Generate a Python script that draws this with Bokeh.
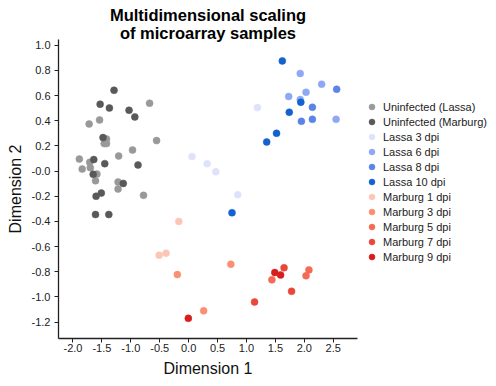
from bokeh.plotting import figure
from bokeh.models import Range1d, FixedTicker, CustomJSTickFormatter, Legend, LegendItem, Title
from bokeh.embed import file_html
from bokeh.resources import INLINE

FONT = "Liberation Sans"

group_names = ["Uninfected (Lassa)", "Uninfected (Marburg)", "Lassa 3 dpi", "Lassa 6 dpi",
               "Lassa 8 dpi", "Lassa 10 dpi", "Marburg 1 dpi", "Marburg 3 dpi",
               "Marburg 5 dpi", "Marburg 7 dpi", "Marburg 9 dpi"]
group_colors = ["#999999", "#595959", "#dfe2fb", "#8fa8f5", "#5c84e8", "#1462cf",
                "#fcc6b6", "#fb8f73", "#f46a55", "#e8473a", "#d91c1c"]

unl_x = [-0.675, -1.72, -1.54, -0.554, -1.42, -1.46, -1.42, -0.97, -1.21, -1.89, -1.71, -1.84, -1.70, -1.585, -1.61, -1.22, -1.22, -0.78]
unl_y = [0.539, 0.374, 0.406, 0.242, 0.255, 0.218, 0.218, 0.167, 0.12, 0.095, 0.069, 0.016, 0.027, -0.024, -0.077, -0.087, -0.143, -0.193]
unm_x = [-1.29, -1.53, -1.37, -1.03, -0.93, -1.48, -1.64, -1.45, -0.875, -1.65, -1.13, -1.51, -1.60, -1.61, -1.38]
unm_y = [0.642, 0.531, 0.501, 0.483, 0.430, 0.266, 0.091, 0.059, 0.048, -0.026, -0.098, -0.175, -0.20, -0.345, -0.345]
l3_x = [0.058, 0.32, 0.47, 0.85, 1.19]
l3_y = [0.115, 0.059, -0.005, -0.188, 0.504]
l6_x = [1.93, 2.30, 2.03, 1.73, 1.93, 2.55]
l6_y = [0.775, 0.69, 0.626, 0.592, 0.568, 0.411]
l8_x = [2.56, 2.14, 1.95, 2.14]
l8_y = [0.65, 0.507, 0.395, 0.411]
l10_x = [1.62, 1.94, 1.74, 1.52, 1.35, 0.75]
l10_y = [0.875, 0.547, 0.467, 0.30, 0.231, -0.331]
m1_x = [-0.17, -0.51, -0.39]
m1_y = [-0.40, -0.668, -0.652]
m3_x = [-0.195, 0.73, 0.26]
m3_y = [-0.822, -0.74, -1.11]
m5_x = [2.08, 2.03, 1.44]
m5_y = [-0.785, -0.832, -0.864]
m7_x = [1.65, 1.78, 1.14]
m7_y = [-0.768, -0.955, -1.04]
m9_x = [1.49, 1.59, -0.005]
m9_y = [-0.806, -0.825, -1.17]

group_x = [unl_x, unm_x, l3_x, l6_x, l8_x, l10_x, m1_x, m3_x, m5_x, m7_x, m9_x]
group_y = [unl_y, unm_y, l3_y, l6_y, l8_y, l10_y, m1_y, m3_y, m5_y, m7_y, m9_y]

x_ticks = [-2.0, -1.5, -1.0, -0.5, 0.0, 0.5, 1.0, 1.5, 2.0, 2.5]
y_ticks = [-1.2, -1.0, -0.8, -0.6, -0.4, -0.2, 0.0, 0.2, 0.4, 0.6, 0.8, 1.0]

title_line1 = "Multidimensional scaling"
title_line2 = "of microarray samples"
x_label = "Dimension 1"
y_label = "Dimension 2"

p = figure(frame_width=299, frame_height=299, output_backend="svg", toolbar_location=None,
           x_range=Range1d(-2.25, 2.92), y_range=Range1d(-1.33, 1.045),
           min_border_left=58, min_border_right=10, min_border_top=39, min_border_bottom=46)

def style_title(t, standoff):
    t.align = "center"
    t.text_font = FONT
    t.text_font_size = "16.5px"
    t.text_font_style = "bold"
    t.text_color = "black"
    t.standoff = standoff

p.title.text = title_line1
style_title(p.title, -1)
t2 = Title(text=title_line2)
style_title(t2, -4)
p.add_layout(t2, "above")

p.outline_line_color = None
p.xgrid.visible = False
p.ygrid.visible = False
p.background_fill_color = "white"
p.border_fill_color = "white"

for ax in (p.xaxis[0], p.yaxis[0]):
    ax.axis_line_color = "#222222"
    ax.axis_line_width = 1.3
    ax.major_tick_line_color = "#222222"
    ax.major_tick_out = 4
    ax.major_tick_in = 0
    ax.minor_tick_line_color = None
    ax.major_label_text_font = FONT
    ax.major_label_text_font_size = "11px"
    ax.major_label_text_color = "#222222"
    ax.axis_label_text_font = FONT
    ax.axis_label_text_font_size = "16px"
    ax.axis_label_text_font_style = "normal"
    ax.axis_label_text_color = "#111111"

p.xaxis[0].axis_label = x_label
p.yaxis[0].axis_label = y_label
p.xaxis[0].major_label_standoff = 1
p.yaxis[0].major_label_standoff = 4
p.xaxis[0].axis_label_standoff = 5
p.yaxis[0].axis_label_standoff = 5

p.xaxis[0].ticker = FixedTicker(ticks=x_ticks)
p.yaxis[0].ticker = FixedTicker(ticks=y_ticks)
p.xaxis[0].formatter = CustomJSTickFormatter(code="return tick.toFixed(1);")
p.yaxis[0].formatter = CustomJSTickFormatter(code="return (Math.abs(tick) < 1e-9) ? '-0.0' : tick.toFixed(1);")

items = []
for name, col, xs, ys in zip(group_names, group_colors, group_x, group_y):
    r = p.scatter(xs, ys, size=7, fill_color=col, line_color=col, line_width=0.5)
    items.append(LegendItem(label=name, renderers=[r]))

legend = Legend(items=items, location=(6, 74), margin=0, padding=0,
                glyph_width=17, glyph_height=15, spacing=0, label_standoff=3,
                label_text_font=FONT, label_text_font_size="11px",
                label_text_color="#222222", label_height=13,
                border_line_color=None, background_fill_alpha=0)
p.add_layout(legend, "right")

open("out.html", "w").write(file_html(p, INLINE))
